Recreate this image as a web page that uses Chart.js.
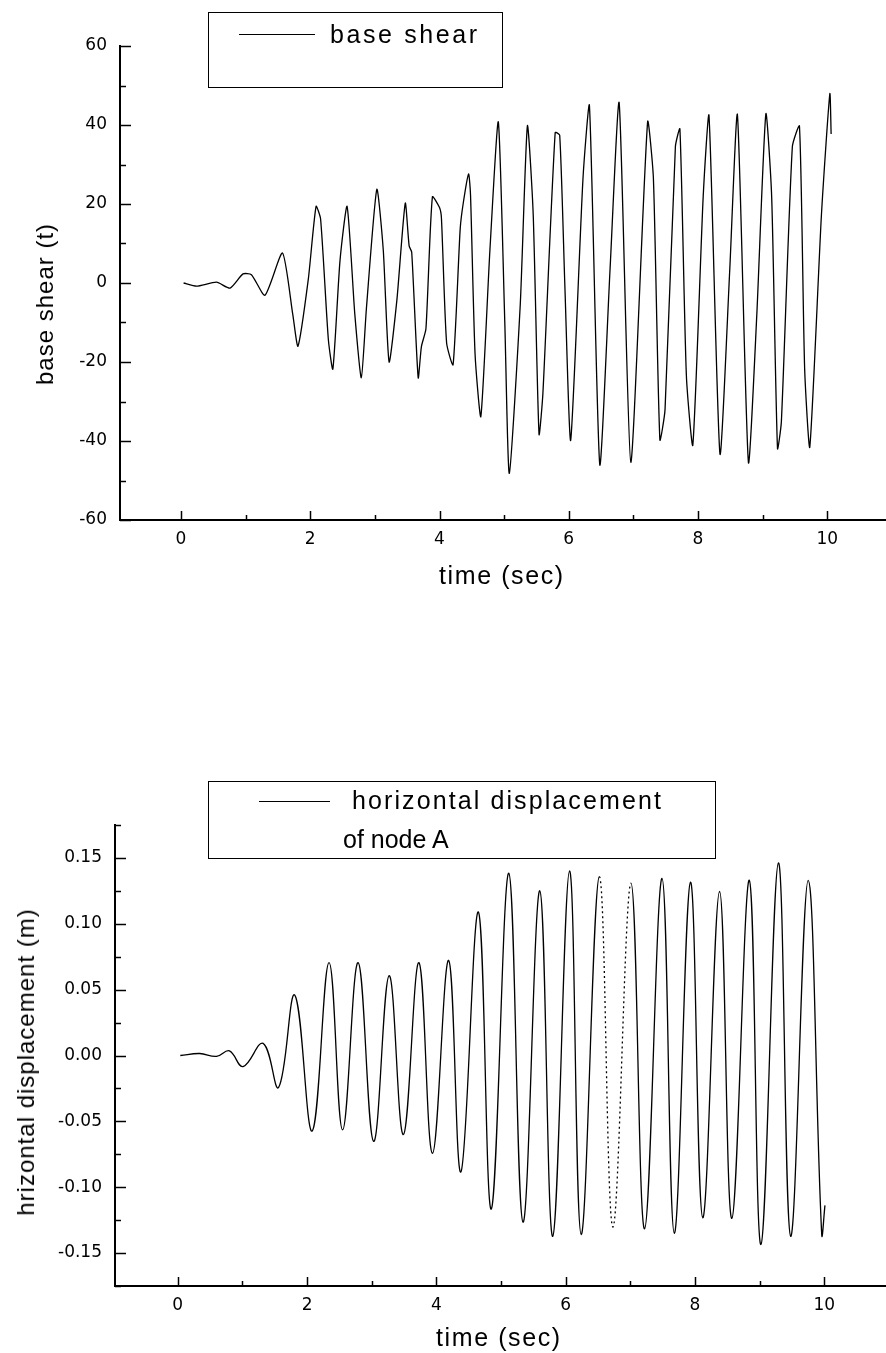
<!DOCTYPE html>
<html>
<head>
<meta charset="utf-8">
<script src="https://cdn.jsdelivr.net/npm/chart.js@4.4.1/dist/chart.umd.min.js"></script>
<style>
  html, body { margin: 0; padding: 0; background: #fff; }
  #page { position: relative; width: 886px; height: 1353px; overflow: hidden;
          font-family: "Liberation Sans", Arial, sans-serif; color: #000; }
  canvas { position: absolute; left: 0; }
  .box { position: absolute; border: 1.5px solid #000; box-sizing: border-box; }
  .sample { position: absolute; height: 0; border-top: 1.5px solid #000; }
  .txt { position: absolute; font-size: 25px; line-height: 25px; white-space: nowrap; }
  .ytitle { position: absolute; font-size: 24px; line-height: 24px; white-space: nowrap;
            letter-spacing: 1px; transform: translate(-50%, -50%) rotate(-90deg); }
</style>
</head>
<body>
<div id="page">
  <canvas id="shear" width="886" height="600" style="top:0"></canvas>
  <canvas id="disp" width="886" height="593" style="top:760px"></canvas>

  <div class="box" style="left:208px;top:12px;width:295px;height:76px"></div>
  <div class="sample" style="left:239px;top:34px;width:76px"></div>
  <div class="txt" style="left:330px;top:22px;letter-spacing:2.6px">base shear</div>
  <div class="ytitle" style="left:45px;top:304px">base shear (t)</div>
  <div class="txt" style="left:439px;top:563px;letter-spacing:1.6px">time (sec)</div>

  <div class="box" style="left:208px;top:781px;width:508px;height:78px"></div>
  <div class="sample" style="left:259px;top:801px;width:71px"></div>
  <div class="txt" style="left:352px;top:788px;letter-spacing:2.1px">horizontal displacement</div>
  <div class="txt" style="left:343px;top:827px;letter-spacing:0px">of node A</div>
  <div class="ytitle" style="left:26px;top:1062px">hrizontal displacement (m)</div>
  <div class="txt" style="left:436px;top:1325px;letter-spacing:1.6px">time (sec)</div>
</div>
<script>
// base shear (t) against time (sec)
const shearTime = [0.04, 0.24, 0.55, 0.76, 0.96, 1.09, 1.30, 1.57, 1.73, 1.81,
  1.97, 2.09, 2.16, 2.28, 2.35, 2.46, 2.57, 2.69, 2.79, 2.87,
  3.03, 3.13, 3.22, 3.34, 3.47, 3.53, 3.57, 3.67, 3.72, 3.79,
  3.89, 4.00, 4.03, 4.11, 4.21, 4.32, 4.37, 4.45, 4.48, 4.55,
  4.64, 4.78, 4.91, 5.01, 5.08, 5.25, 5.36, 5.45, 5.54, 5.60,
  5.79, 5.86, 5.94, 6.03, 6.22, 6.32, 6.48, 6.64, 6.78, 6.96,
  7.22, 7.31, 7.41, 7.49, 7.65, 7.72, 7.82, 7.92, 8.08, 8.17,
  8.34, 8.49, 8.61, 8.78, 8.91, 9.05, 9.14, 9.23, 9.29, 9.46,
  9.57, 9.65, 9.73, 9.91, 10.04, 10.06];
const shearValue = [0, -0.8, 0.2, -1.3, 2.3, 2.1, -3.1, 7.6, -8.0, -16.0,
  1.0, 19.4, 16.2, -14.3, -21.8, 5.6, 19.4, -8.0, -24.0, -6.2,
  23.7, 8.3, -20.0, -4.4, 20.2, 9.4, 7.8, -24.0, -16.1, -11.6,
  21.8, 19.1, 16.4, -15.2, -20.7, 13.7, 20.5, 27.6, 22.3, -17.9,
  -33.8, 8.3, 40.8, -9.8, -48.2, -5.3, 39.8, 17.3, -38.3, -27.9,
  38.1, 37.4, -0.8, -39.8, 26.4, 44.9, -46.0, 3.8, 45.6, -45.4,
  40.8, 26.4, -39.7, -32.0, 34.5, 39.0, -23.4, -41.0, 21.8, 42.4,
  -43.3, 2.9, 42.6, -45.4, -8.0, 42.8, 21.8, -41.9, -35.1, 34.5,
  39.7, -21.6, -41.5, 17.3, 47.9, 37.7];

// horizontal displacement of node A (m)
const dispTime = [0.04, 0.34, 0.60, 0.80, 1.01, 1.32, 1.56, 1.81, 2.08, 2.34,
  2.55, 2.79, 3.03, 3.27, 3.49, 3.73, 3.94, 4.19, 4.38, 4.65,
  4.85, 5.12, 5.34, 5.60, 5.80, 6.06, 6.24, 6.52, 6.73, 7.01,
  7.22, 7.49, 7.68, 7.93, 8.12, 8.38, 8.57, 8.84, 9.02, 9.29,
  9.48, 9.75, 9.96, 10.01];
const dispValue = [0, 0.0015, -0.0007, 0.0035, -0.0084, 0.0092, -0.0242, 0.0459, -0.0573, 0.0705,
  -0.0564, 0.0705, -0.0652, 0.0606, -0.0600, 0.0705, -0.0742, 0.0722, -0.0884, 0.1090,
  -0.1166, 0.1384, -0.1265, 0.1251, -0.1373, 0.1401, -0.1359, 0.1358, -0.1302, 0.1308,
  -0.1316, 0.1345, -0.1350, 0.1316, -0.1232, 0.1245, -0.1237, 0.1330, -0.1435, 0.1463,
  -0.1373, 0.1330, -0.1359, -0.1138];
// the scan fades to a dotted trace over this stretch
const dottedFrom = 6.52, dottedTo = 7.01;

// ticks
const timeTicks = [0, 1, 2, 3, 4, 5, 6, 7, 8, 9, 10];
const timeLabels = [0, 2, 4, 6, 8, 10];
const shearTicks = [-60, -50, -40, -30, -20, -10, 0, 10, 20, 30, 40, 50, 60];
const shearLabels = [-60, -40, -20, 0, 20, 40, 60];
const dispTicks = [-0.175, -0.15, -0.125, -0.1, -0.075, -0.05, -0.025, 0,
  0.025, 0.05, 0.075, 0.1, 0.125, 0.15, 0.175];
const dispLabels = [-0.15, -0.1, -0.05, 0, 0.05, 0.1, 0.15];

const has = (list, v) => list.some((l) => Math.abs(l - v) < 1e-9);

// tick marks point into the plot, longer where there is a label
const innerTicks = {
  id: "innerTicks",
  afterDraw(chart) {
    const { ctx, chartArea } = chart;
    ctx.save();
    ctx.strokeStyle = "#000";
    ctx.lineWidth = 1.5;
    Object.values(chart.scales).forEach((scale) => {
      scale.ticks.forEach((tick) => {
        const major = tick.label !== "";
        const p = Math.round(scale.getPixelForValue(tick.value)) + 0.5;
        ctx.beginPath();
        if (scale.isHorizontal()) {
          const len = major ? 9 : 5;
          ctx.moveTo(p, chartArea.bottom);
          ctx.lineTo(p, chartArea.bottom - len);
        } else {
          const len = major ? 11 : 6;
          ctx.moveTo(chartArea.left, p);
          ctx.lineTo(chartArea.left + len, p);
        }
        ctx.stroke();
      });
    });
    ctx.restore();
  },
};

const tickFont = { family: '"DejaVu Sans", sans-serif', size: 17 };

function makeChart(id, opts) {
  const points = opts.time.map((t, i) => ({ x: t, y: opts.value[i] }));
  return new Chart(document.getElementById(id), {
    type: "line",
    data: {
      datasets: [
        {
          data: points,
          borderColor: "#000",
          borderWidth: 1.3,
          pointRadius: 0,
          fill: false,
          tension: opts.tension,
          segment: opts.segment,
        },
      ],
    },
    plugins: [innerTicks],
    options: {
      responsive: false,
      animation: false,
      devicePixelRatio: 1,
      layout: { padding: { top: opts.top, left: 0, right: 0, bottom: 0 } },
      plugins: { legend: { display: false }, tooltip: { enabled: false } },
      scales: {
        x: {
          type: "linear",
          min: opts.xMin,
          max: opts.xMax,
          grid: { display: false, drawTicks: false },
          border: { display: true, color: "#000", width: 2 },
          afterBuildTicks: (s) => { s.ticks = timeTicks.map((value) => ({ value })); },
          afterFit: (s) => { s.height = opts.xHeight; },
          ticks: {
            color: "#000",
            font: tickFont,
            padding: 9,
            maxRotation: 0,
            autoSkip: false,
            callback: (v) => (has(timeLabels, v) ? String(v) : ""),
          },
        },
        y: {
          type: "linear",
          min: opts.yMin,
          max: opts.yMax,
          grid: { display: false, drawTicks: false },
          border: { display: true, color: "#000", width: 2 },
          afterBuildTicks: (s) => { s.ticks = opts.yTicks.map((value) => ({ value })); },
          afterFit: (s) => { s.width = opts.yWidth; },
          ticks: {
            color: "#000",
            font: tickFont,
            padding: 13,
            autoSkip: false,
            callback: opts.yLabel,
          },
        },
      },
    },
  });
}

makeChart("shear", {
  time: shearTime,
  value: shearValue,
  tension: 0.2,
  top: 46,
  xHeight: 80,
  yWidth: 120,
  xMin: -0.944,
  xMax: 10.909,
  yMin: -60,
  yMax: 60,
  yTicks: shearTicks,
  yLabel: (v) => (has(shearLabels, v) ? String(v) : ""),
});

makeChart("disp", {
  time: dispTime,
  value: dispValue,
  tension: 0.4,
  top: 65,
  xHeight: 67,
  yWidth: 115,
  xMin: -0.97,
  xMax: 10.954,
  yMin: -0.175,
  yMax: 0.175,
  yTicks: dispTicks,
  yLabel: (v) => (has(dispLabels, v) ? v.toFixed(2) : ""),
  segment: {
    borderDash: (ctx) =>
      ctx.p0.parsed.x >= dottedFrom && ctx.p1.parsed.x <= dottedTo ? [2, 3] : undefined,
  },
});
</script>
</body>
</html>
